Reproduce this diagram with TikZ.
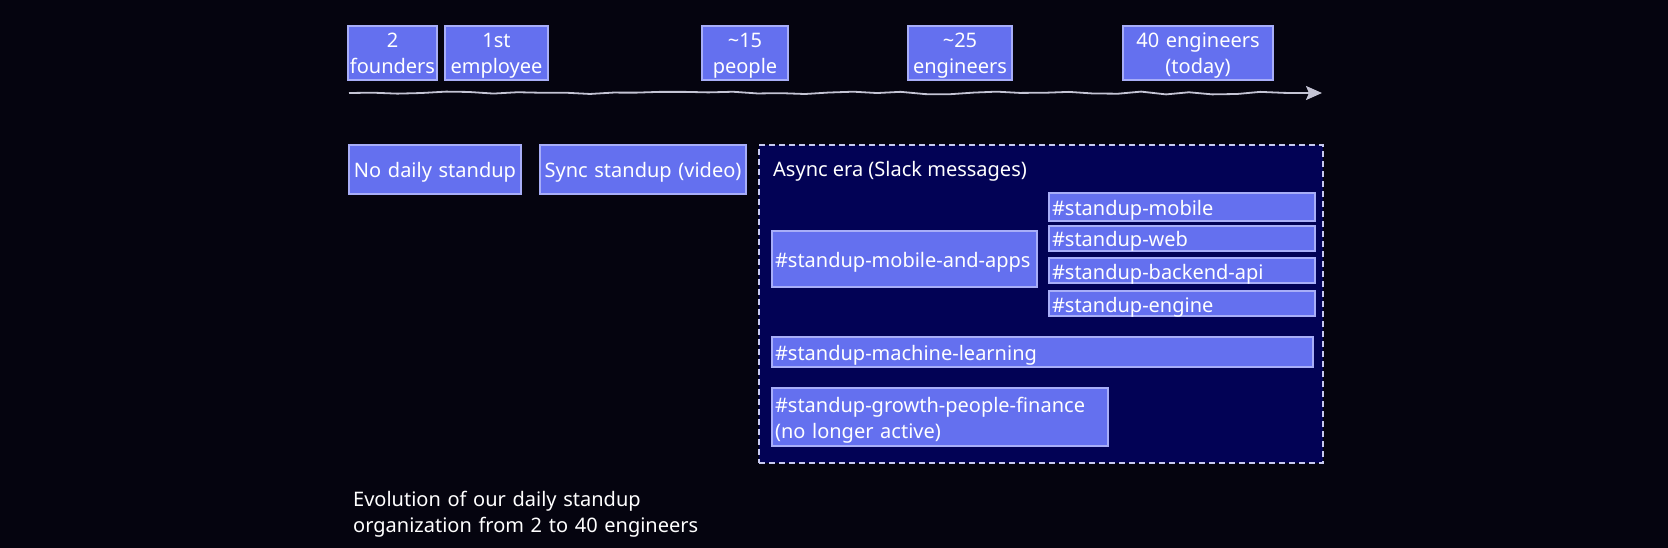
\documentclass[tikz,border=0pt]{standalone}
\usepackage{fontspec}
\setmainfont{Noto Sans}
\usetikzlibrary{arrows.meta,decorations.pathmorphing}
\definecolor{bg}{HTML}{05040F}
\definecolor{boxfill}{HTML}{6470EF}
\definecolor{boxline}{HTML}{A8AEF8}
\definecolor{contfill}{HTML}{020255}
\definecolor{dashcol}{HTML}{C8CAF0}
\definecolor{tlcol}{HTML}{C4C4D4}
\tikzset{
  txt/.style={font=\fontsize{20}{26}\selectfont, text=white},
  cbox/.style={txt, draw=boxline, fill=boxfill, line width=1.5pt, inner sep=0pt, align=center},
  lbox/.style={txt, draw=boxline, fill=boxfill, line width=1.5pt, inner xsep=3pt, inner ysep=0pt, align=left},
  oneline/.style={text height=17pt, text depth=0pt},
  twoline/.style={text height=16pt, text depth=26pt},
  container/.style={draw=dashcol, fill=contfill, line width=1.5pt, dash pattern=on 6pt off 4pt, inner sep=0pt},
  timeline/.style={draw=tlcol, line width=1.8pt, line join=round,
    -{Stealth[length=16pt,width=14pt,inset=3pt]}},
}
\begin{document}
\begin{tikzpicture}[x=1pt,y=-1pt]
\fill[bg] (0,0) rectangle (1668,548);
\useasboundingbox (0,0) rectangle (1668,548);

% timeline
\pgfmathsetseed{7}
\coordinate (tl0) at (349,93);
\coordinate (tl1) at (1322,93);
\draw[timeline, decorate, decoration={random steps, segment length=24pt, amplitude=1.4pt, post length=22pt}] (tl0) -- (tl1);

% milestones
\node[cbox, twoline, text width=89pt, minimum height=54pt] (f2) at (392.5,53) {2\\founders};
\node[cbox, twoline, text width=103pt, minimum height=54pt] (emp1) at (496.5,53) {1st\\employee};
\node[cbox, twoline, text width=86pt, minimum height=54pt] (p15) at (745,53) {\textasciitilde15\\people};
\node[cbox, twoline, text width=104pt, minimum height=54pt] (e25) at (960,53) {\textasciitilde25\\engineers};
\node[cbox, twoline, text width=150pt, minimum height=54pt] (e40) at (1198,53) {40 engineers\\(today)};

% eras
\node[cbox, oneline, text width=172pt, minimum height=49pt] (nods) at (435,169.5) {No daily standup};
\node[cbox, oneline, text width=206pt, minimum height=49pt] (sync) at (643,169.5) {Sync standup (video)};

\node[container, minimum width=564pt, minimum height=318pt] (async) at (1041,304) {};
\node[txt, anchor=base west, inner sep=0pt] (asynclbl) at (773,177) {Async era (Slack messages)};

\node[lbox, oneline, text width=259pt, minimum height=56pt] (mapps) at (904.5,259) {\#standup-mobile-and-apps};
\node[lbox, oneline, text width=260pt, minimum height=28pt] (mob) at (1182,207) {\#standup-mobile};
\node[lbox, oneline, text width=260pt, minimum height=25pt] (web) at (1182,238.5) {\#standup-web};
\node[lbox, oneline, text width=260pt, minimum height=25pt] (api) at (1182,270.5) {\#standup-backend-api};
\node[lbox, oneline, text width=260pt, minimum height=25pt] (eng) at (1182,303.5) {\#standup-engine};
\node[lbox, oneline, text width=535pt, minimum height=30pt] (ml) at (1042.5,352) {\#standup-machine-learning};
\node[lbox, twoline, text width=330pt, minimum height=58pt] (growth) at (940,417) {\#standup-growth-people-finance\\(no longer active)};

% caption
\node[txt, anchor=base west, inner sep=0pt, align=left, text width=400pt] (caption) at (353,506) {Evolution of our daily standup\\organization from 2 to 40 engineers};
\end{tikzpicture}
\end{document}
